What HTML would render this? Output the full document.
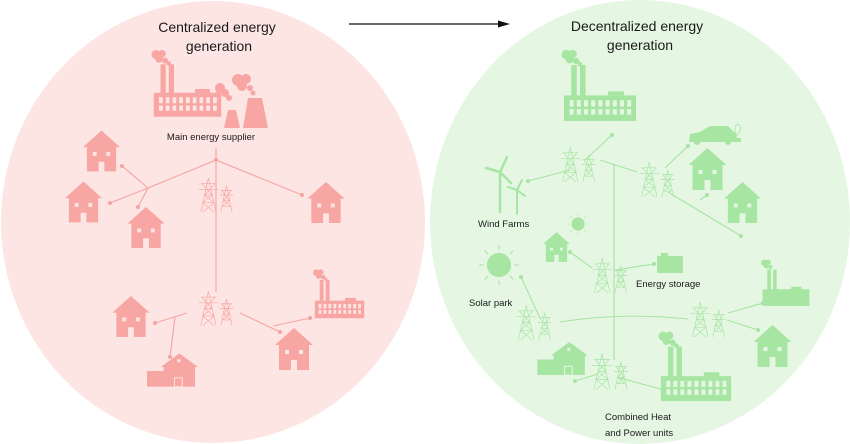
<!DOCTYPE html>
<html><head><meta charset="utf-8"><style>
html,body{margin:0;padding:0;background:#fff;}
svg{display:block;}
text{font-family:"Liberation Sans",sans-serif;fill:#1a1a1a;}
</style></head><body>
<svg width="850" height="444" viewBox="0 0 850 444" xmlns="http://www.w3.org/2000/svg">
<defs>
<symbol id="house" viewBox="0 0 38 42">
<polygon points="0,17 19,0 38,17" fill="currentColor"/>
<rect x="4" y="14" width="30" height="28" fill="currentColor"/>
<rect x="10" y="22" width="4" height="4" fill="var(--bg)"/>
<rect x="24" y="22" width="4" height="4" fill="var(--bg)"/>
<rect x="16" y="32" width="6" height="10" fill="var(--bg)"/>
</symbol>
<symbol id="barn" viewBox="0 0 52 34">
<rect x="0" y="18" width="22" height="16" fill="currentColor"/>
<polygon points="14,14 33,0 52,14" fill="currentColor"/>
<rect x="17" y="12" width="32" height="22" fill="currentColor"/>
<rect x="31" y="6" width="3" height="3" fill="var(--bg)"/>
<rect x="28" y="25" width="8" height="9" fill="none" stroke="var(--bg)" stroke-width="1"/>
</symbol>
<symbol id="pylon" viewBox="0 0 40 36">
<g fill="none" stroke="currentColor" stroke-width="0.7">
<path d="M12,0 L4,36 M12,0 L20,36 M4,6 L20,6 M2,12 L22,12 M8,18 L16,18 M6,26 L18,26 M5,6 L16,18 L6,26 L18,36 M19,6 L8,18 L18,26 L6,36"/>
<path d="M31,8 L25,36 M31,8 L37,36 M25,13 L37,13 M24,18 L38,18 M28,24 L34,24 M27,30 L35,30 M26,13 L34,24 L27,30 M36,13 L28,24 L35,30"/>
</g>
</symbol>
<symbol id="factory" viewBox="0 0 100 90">
<g fill="currentColor">
<circle cx="8" cy="7" r="6"/><circle cx="16" cy="6" r="5"/><circle cx="12" cy="13" r="5"/><circle cx="20" cy="15" r="4"/><circle cx="25" cy="19" r="3"/>
<rect x="14" y="20" width="7" height="42"/><rect x="25" y="20" width="7" height="42"/>
<rect x="60" y="53" width="20" height="6"/>
<rect x="5" y="58" width="90" height="32"/>
</g>
<g fill="var(--bg)">
<rect x="12" y="64" width="5" height="8"/><rect x="21" y="64" width="5" height="8"/><rect x="30" y="64" width="5" height="8"/><rect x="39" y="64" width="5" height="8"/><rect x="48" y="64" width="5" height="8"/><rect x="57" y="64" width="5" height="8"/><rect x="66" y="64" width="5" height="8"/><rect x="75" y="64" width="5" height="8"/><rect x="84" y="64" width="5" height="8"/>
<rect x="12" y="75" width="5" height="7"/><rect x="21" y="75" width="5" height="7"/><rect x="30" y="75" width="5" height="7"/><rect x="39" y="75" width="5" height="7"/><rect x="48" y="75" width="5" height="7"/><rect x="57" y="75" width="5" height="7"/><rect x="66" y="75" width="5" height="7"/><rect x="75" y="75" width="5" height="7"/><rect x="84" y="75" width="5" height="7"/>
</g>
</symbol>
<symbol id="factoryplain" viewBox="0 0 100 90">
<g fill="currentColor">
<circle cx="8" cy="7" r="6"/><circle cx="16" cy="6" r="5"/><circle cx="12" cy="13" r="5"/><circle cx="20" cy="15" r="4"/>
<rect x="14" y="20" width="7" height="42"/><rect x="25" y="20" width="7" height="42"/>
<rect x="60" y="53" width="20" height="6"/>
<rect x="5" y="58" width="90" height="32"/>
</g>
</symbol>
<symbol id="sun" viewBox="0 0 40 40">
<circle cx="20" cy="20" r="11" fill="currentColor"/>
<g stroke="currentColor" stroke-width="1">
<path d="M20,2 L20,6 M20,34 L20,38 M2,20 L6,20 M34,20 L38,20 M7,7 L10,10 M30,30 L33,33 M33,7 L30,10 M7,33 L10,30"/>
</g>
</symbol>
</defs>

<!-- circles -->
<ellipse cx="213" cy="222" rx="212" ry="221" fill="#fde5e4"/>
<ellipse cx="640" cy="222" rx="210" ry="222" fill="#e5f7e3"/>

<!-- arrow -->
<line x1="349" y1="24" x2="500" y2="24" stroke="#111" stroke-width="1.2"/>
<polygon points="510,24 498,20.5 498,27.5" fill="#111"/>

<!-- titles -->
<text x="217" y="32" font-size="14" text-anchor="middle">Centralized energy</text>
<text x="219" y="51" font-size="14" text-anchor="middle">generation</text>
<text x="637" y="31" font-size="14" text-anchor="middle">Decentralized energy</text>
<text x="640" y="50" font-size="14" text-anchor="middle">generation</text>

<!-- LEFT -->
<g style="--bg:#fde5e4" color="#f7a6a3">
<g stroke="#f4a4a2" stroke-width="1.1" fill="none">
<path d="M216,148 L216,292"/>
<path d="M216,160 L148,188 M148,188 L122,166 M148,188 L110,203 M148,188 L138,207"/>
<path d="M216,160 L302,195"/>
<path d="M187,313 L155,323 M175,317 L170,357"/>
<path d="M240,313 L280,332 M273,326 L310,318"/>
</g>
<g fill="#f4a4a2">
<circle cx="216" cy="160" r="2"/><circle cx="122" cy="166" r="2"/><circle cx="110" cy="203" r="2"/><circle cx="138" cy="207" r="2"/><circle cx="302" cy="195" r="2"/>
<circle cx="155" cy="323" r="2"/><circle cx="170" cy="357" r="2"/><circle cx="280" cy="332" r="2"/><circle cx="310" cy="318" r="2"/>
</g>
<use href="#factory" x="150" y="38" width="75" height="90"/>
<g fill="#f7a6a3">
<polygon points="224,128 228,110 236,110 240,128"/>
<polygon points="243,128 248,98 262,98 268,128"/>
<circle cx="220" cy="88" r="5"/><circle cx="225" cy="93" r="4"/><circle cx="229" cy="98" r="3"/><circle cx="218" cy="94" r="3"/>
<circle cx="238" cy="80" r="6"/><circle cx="246" cy="79" r="5"/><circle cx="242" cy="86" r="5"/><circle cx="250" cy="88" r="3"/><circle cx="253" cy="93" r="2.5"/>
</g>
<use href="#house" x="83" y="130" width="37" height="42"/>
<use href="#house" x="65" y="181" width="37" height="42"/>
<use href="#house" x="127" y="207" width="38" height="41"/>
<use href="#house" x="307" y="182" width="38" height="41"/>
<use href="#house" x="112" y="296" width="38" height="41"/>
<use href="#house" x="275" y="328" width="38" height="42"/>
<use href="#barn" x="147" y="353" width="51" height="34"/>
<use href="#factory" x="312" y="260" width="55" height="67"/>
<use href="#pylon" x="197" y="177" width="38" height="36"/>
<use href="#pylon" x="197" y="290" width="38" height="37"/>
</g>
<text x="211" y="140" font-size="9.5" text-anchor="middle">Main energy supplier</text>

<!-- RIGHT -->
<g style="--bg:#e5f7e3" color="#a7e5a3">
<g stroke="#a7e3a3" stroke-width="1.1" fill="none">
<path d="M614,165 L614,360"/>
<path d="M585,160 L612,135 M570,170 L528,181 M600,160 L637,172"/>
<path d="M665,168 L688,146 M700,200 L707,195 M668,192 L741,236"/>
<path d="M592,268 L570,252 M615,270 L654,264"/>
<path d="M540,318 L521,277"/>
<path d="M560,322 Q620,312 688,319"/>
<path d="M728,313 L763,303 M727,320 L758,330"/>
<path d="M598,374 L575,381 M620,378 L664,390"/>
</g>
<g fill="#a7e3a3">
<circle cx="612" cy="135" r="2"/><circle cx="528" cy="181" r="2"/><circle cx="688" cy="146" r="2"/><circle cx="707" cy="195" r="2"/><circle cx="741" cy="236" r="2"/>
<circle cx="570" cy="252" r="2"/><circle cx="654" cy="264" r="2"/><circle cx="521" cy="277" r="2"/><circle cx="763" cy="303" r="2"/><circle cx="758" cy="330" r="2"/><circle cx="575" cy="381" r="2"/><circle cx="664" cy="390" r="2"/>
</g>
<use href="#factory" x="560" y="40" width="80" height="90"/>
<use href="#factoryplain" x="760" y="257" width="52" height="51"/>
<use href="#factory" x="657" y="322" width="78" height="88"/>
<use href="#house" x="688" y="148" width="39" height="42"/>
<use href="#house" x="723" y="182" width="39" height="41"/>
<use href="#house" x="543" y="232" width="27" height="30"/>
<use href="#house" x="753" y="325" width="39" height="42"/>
<use href="#barn" x="537" y="342" width="51" height="33"/>
<use href="#sun" x="477" y="243" width="44" height="44"/>
<use href="#sun" x="566" y="212" width="24" height="24"/>
<rect x="657" y="256" width="26" height="17" fill="#a7e5a3"/>
<rect x="661" y="253" width="7" height="4" fill="#a7e5a3"/>
<!-- car -->
<g fill="#a7e5a3">
<path d="M689,142 L690,134 L700,132 L710,126 L728,126 L736,134 L736,142 Z"/>
<circle cx="697" cy="142" r="3"/><circle cx="728" cy="142" r="3"/>
</g>
<path d="M736,136 Q744,128 738,124 Q732,126 738,140" fill="none" stroke="#a7e5a3" stroke-width="0.8"/>
<rect x="736" y="138" width="5" height="4" fill="#a7e5a3"/>
<!-- wind turbines -->
<g stroke="#a7e5a3" fill="none" stroke-linecap="round">
<path d="M500,172 L500,212" stroke-width="2.5"/>
<path d="M500,172 L507,157 M500,172 L486,168 M500,172 L511,183" stroke-width="2.5"/>
<path d="M517,190 L517,214" stroke-width="2"/>
<path d="M517,190 L522,180 M517,190 L508,187 M517,190 L525,196" stroke-width="2"/>
</g>
<use href="#pylon" x="558" y="147" width="40" height="35"/>
<use href="#pylon" x="637" y="162" width="40" height="35"/>
<use href="#pylon" x="590" y="258" width="40" height="35"/>
<use href="#pylon" x="513" y="305" width="42" height="35"/>
<use href="#pylon" x="688" y="302" width="40" height="35"/>
<use href="#pylon" x="590" y="353" width="40" height="37"/>
</g>
<text x="478" y="227" font-size="9.5">Wind Farms</text>
<text x="469" y="306" font-size="9.5">Solar park</text>
<text x="636" y="287" font-size="9.5">Energy storage</text>
<text x="605" y="420" font-size="9.5">Combined Heat</text>
<text x="605" y="436" font-size="9.5">and Power units</text>
</svg>
</body></html>
